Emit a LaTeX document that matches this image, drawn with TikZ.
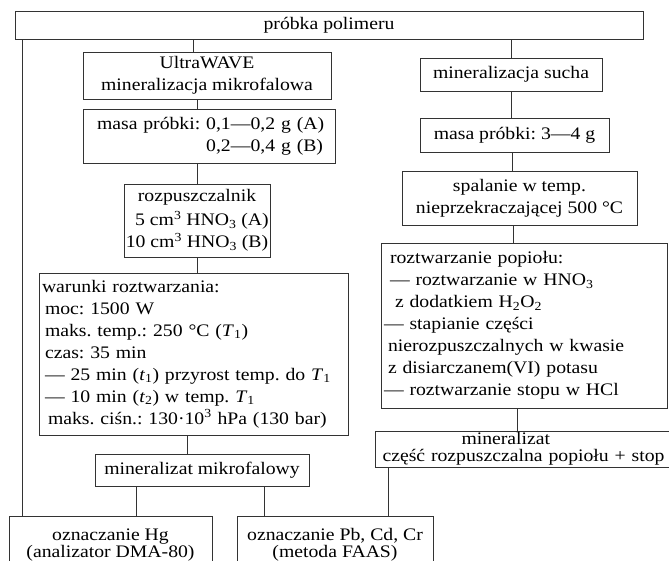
\documentclass[tikz,border=0pt]{standalone}
\usepackage{fontspec}
\setmainfont{Liberation Serif}[FakeStretch=1.12]

\tikzset{
  box/.style={draw=black!80, line width=0.9pt, inner sep=0pt, align=center},
  lbox/.style={box, align=left},
  tight/.style={font=\fontsize{17.6}{17}\selectfont},
  conn/.style={draw=black!80, line width=0.9pt},
}

\begin{document}
\frenchspacing
\begin{tikzpicture}[x=1pt, y=-1pt, every node/.style={font=\fontsize{17.6}{22}\selectfont}]
\useasboundingbox (0,0) rectangle (669,560);

% top and left column
\node[box, minimum width=628, minimum height=28] (probka) at (329,25) {próbka polimeru};
\node[box, minimum width=248, minimum height=47] (uw) at (207,75.5) {UltraWAVE\\mineralizacja mikrofalowa};
\node[lbox, text width=240, inner xsep=6, minimum height=54] (masaA) at (209,136)
  {\hspace*{8pt}masa próbki: 0,1—0,2 g (A)\\\hspace*{8pt}\phantom{masa próbki: }0,2—0,4 g (B)};
\node[box, minimum width=146, minimum height=73] (rozp) at (197,220.5)
  {rozpuszczalnik\\[2pt]\phantom{1}5 cm\textsuperscript{3} HNO\textsubscript{3} (A)\\10 cm\textsuperscript{3} HNO\textsubscript{3} (B)};
\node[lbox, text width=303, inner xsep=3, minimum height=162] (war) at (193.5,354)
  {warunki roztwarzania:\\
   \hspace*{3pt}moc: 1500 W\\
   \hspace*{3pt}maks. temp.: 250 °C (\textit{T}\textsubscript{1})\\
   \hspace*{3pt}czas: 35 min\\
   \hspace*{3pt}— 25 min (\textit{t}\textsubscript{1}) przyrost temp. do \textit{T}\textsubscript{1}\\
   \hspace*{3pt}— 10 min (\textit{t}\textsubscript{2}) w temp. \textit{T}\textsubscript{1}\\
   \hspace*{6pt}maks. ciśn.: 130·10\textsuperscript{3} hPa (130 bar)};
\node[box, minimum width=214, minimum height=32] (mik) at (202,470) {mineralizat mikrofalowy};
\node[box, tight, minimum width=203, minimum height=58] (hg) at (110.5,545) {oznaczanie Hg\\(analizator DMA-80)};
\node[box, tight, minimum width=196, minimum height=58] (pb) at (335,545) {oznaczanie Pb, Cd, Cr\\(metoda FAAS)};

% right column
\node[box, minimum width=182, minimum height=33] (sucha) at (511,74.5) {mineralizacja sucha};
\node[box, minimum width=189, minimum height=34] (masaB) at (514.5,135) {masa próbki: 3—4 g};
\node[box, minimum width=235, minimum height=54] (spal) at (519.5,198) {spalanie w temp.\\nieprzekraczającej 500 °C};
\node[lbox, text width=280, inner xsep=3, minimum height=165] (pop) at (524,325.5)
  {\hspace*{6pt}roztwarzanie popiołu:\\
   \hspace*{6pt}— roztwarzanie w HNO\textsubscript{3}\\
   \hspace*{11pt}z dodatkiem H\textsubscript{2}O\textsubscript{2}\\
   — stapianie części\\
   \hspace*{4pt}nierozpuszczalnych w kwasie\\
   \hspace*{4pt}z disiarczanem(VI) potasu\\
   — roztwarzanie stopu w HCl};
\node[lbox, tight, text width=293, inner xsep=7, minimum height=36] (mins) at (529,449)
  {\hspace*{79pt}mineralizat\\część rozpuszczalna popiołu + stop};

% connectors
\draw[conn] ([xshift=8pt]probka.south west) -- ([xshift=8pt]probka.south west |- hg.north);
\draw[conn] ([xshift=-14pt]uw.north) -- ([xshift=-14pt]uw.north |- probka.south);
\draw[conn] (sucha.north) -- (sucha.north |- probka.south);
\draw[conn] ([xshift=-10pt]uw.south) -- ([xshift=-10pt]uw.south |- masaA.north);
\draw[conn] (rozp.north) -- (rozp.north |- masaA.south);
\draw[conn] (rozp.south) -- (rozp.south |- war.north);
\draw[conn] ([xshift=-15pt]mik.north) -- ([xshift=-15pt]mik.north |- war.south);
\draw[conn] ([xshift=26pt]hg.north) -- ([xshift=26pt]hg.north |- mik.south);
\draw[conn] ([xshift=-71pt]pb.north) -- ([xshift=-71pt]pb.north |- mik.south);
\draw[conn] (sucha.south) -- (sucha.south |- masaB.north);
\draw[conn] ([xshift=-2pt]masaB.south) -- ([xshift=-2pt]masaB.south |- spal.north);
\draw[conn] ([xshift=-6pt]spal.south) -- ([xshift=-6pt]spal.south |- pop.north);
\draw[conn] ([xshift=-7pt]pop.south) -- ([xshift=-7pt]pop.south |- mins.north);
\draw[conn] ([xshift=13pt]mins.south west) -- ([xshift=13pt]mins.south west |- pb.north);
\end{tikzpicture}
\end{document}
